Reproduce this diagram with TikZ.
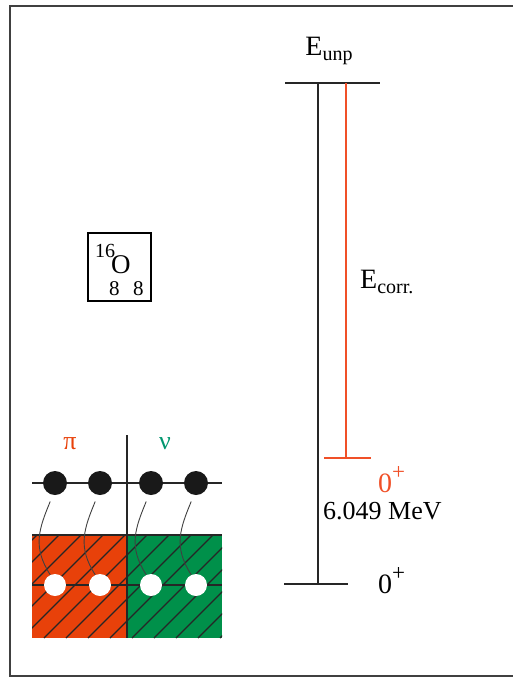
\documentclass[tikz,border=0pt]{standalone}
\usepackage{fontspec}
\setmainfont{Liberation Serif}
\usetikzlibrary{positioning}
\definecolor{protred}{RGB}{232,65,10}
\definecolor{neutgreen}{RGB}{0,144,74}
\definecolor{nutext}{RGB}{0,150,110}
\definecolor{linered}{RGB}{240,80,40}
\newcommand{\lowsub}[1]{\raisebox{-0.45ex}{\fontsize{20}{20}\selectfont #1}}
\newcommand{\spinplus}{\raisebox{0.95ex}{\fontsize{23}{23}\selectfont +}}
\tikzset{
  frame/.style={draw=black!75, line width=1.8pt},
  level/.style={draw=black!85, line width=1.6pt},
  corr/.style={draw=linered, line width=1.4pt},
  lbl/.style={font=\fontsize{28}{30}\selectfont, inner sep=0pt},
  small/.style={font=\fontsize{20}{22}\selectfont, inner sep=0pt},
  full/.style={circle, fill=black!90, minimum size=24pt, inner sep=0pt},
  hole/.style={circle, fill=white, minimum size=22pt, inner sep=0pt},
  hatch/.style={draw=black!85, line width=1.1pt},
  pair/.style={draw=black!75, line width=0.9pt},
}

\begin{document}
\begin{tikzpicture}[x=1pt, y=-1pt]
  \useasboundingbox (0,0) rectangle (512,678);
  \draw[frame] (520,6) -- (10,6) -- (10,676) -- (520,676);

  % level scheme
  \coordinate (unpL) at (285,83);
  \coordinate (unpR) at (380,83);
  \coordinate (unpM) at (318,83);
  \coordinate (gsL) at (284,584);
  \coordinate (gsR) at (348,584);
  \coordinate (gsM) at (318,584);
  \coordinate (cTop) at (346,83);
  \coordinate (cBot) at (346,458);
  \coordinate (exL) at (324,458);
  \coordinate (exR) at (371,458);
  \draw[level] (unpL) -- (unpR);
  \draw[level] (gsL) -- (gsR);
  \draw[level] (unpM) -- (gsM);
  \draw[corr] (cTop) -- (cBot);
  \draw[corr] (exL) -- (exR);

  \node[lbl, anchor=base] (eunp) at (329,55) {E\lowsub{unp}};
  \node[lbl, anchor=base west] (ecorr) at (360,288) {E\lowsub{corr.}};
  \node[lbl, anchor=base west, text=linered] (exspin) at (378,492) {0\spinplus};
  \node[lbl, anchor=base west, font=\fontsize{26}{28}\selectfont] (exen) at (323,519) {6.049 MeV};
  \node[lbl, anchor=base west] (gsspin) at (378,593) {0\spinplus};

  % nucleus
  \node[draw, line width=1.3pt, minimum width=63pt, minimum height=68pt] (nuc) at (119.5,267) {};
  \node[small, anchor=base west] (mass) at (95,257) {16};
  \node[lbl, anchor=base west, font=\fontsize{27}{29}\selectfont] (elem) at (111,273) {O};
  \node[small, anchor=base west, font=\fontsize{21}{23}\selectfont] (zz) at (109,295) {8};
  \node[small, anchor=base west, font=\fontsize{21}{23}\selectfont] (nn) at (133,295) {8};

  % shell picture
  \fill[protred] (32,535) rectangle (127,638);
  \fill[neutgreen] (127,535) rectangle (222,638);
  \begin{scope}
    \clip (32,535) rectangle (222,638);
    \foreach \s in {-110,-88,...,230}
      \draw[hatch] (\s,638) -- ++(110,-110);
  \end{scope}
  \draw[level] (32,483) -- (222,483);
  \draw[level] (32,535) -- (222,535);
  \draw[level] (32,585) -- (222,585);
  \draw[level] (127,435) -- (127,638);
  \foreach \x [count=\i] in {55,100,151,196} {
    \node[full] (p\i) at (\x,483) {};
    \node[hole] (h\i) at (\x,585) {};
    \draw[pair, shorten <=7pt] (p\i.260) .. controls +(-14,34) and +(-18,-28) .. (h\i.115);
  }
  \node[lbl, font=\fontsize{26}{28}\selectfont, text=protred] (pi) at (70,444) {π};
  \node[lbl, font=\fontsize{26}{28}\selectfont, text=nutext] (nu) at (165,444) {ν};
\end{tikzpicture}
\end{document}
